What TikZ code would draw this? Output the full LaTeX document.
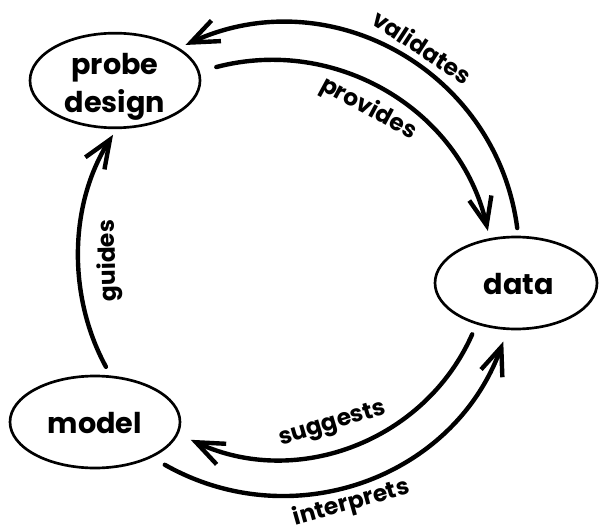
\documentclass[tikz,border=0pt]{standalone}
\usepackage{fontspec}
\setmainfont{Poppins}
\usetikzlibrary{shapes.geometric,arrows.meta}
\begin{document}
\begin{tikzpicture}[x=0.75pt,y=-0.75pt]
\tikzset{
  state/.style={ellipse, draw, line width=2pt, inner sep=0pt, outer sep=0pt},
  nodetext/.style={align=center, inner sep=0pt, font=\bfseries\fontsize{21.5pt}{29pt}\selectfont},
  flow/.style={line width=3.3pt, line cap=round, -{Straight Barb[length=21pt,width=17pt]}},
  lab/.style={font=\bfseries\fontsize{17.5pt}{20pt}\selectfont, sloped, inner sep=1pt}
}
\useasboundingbox (0,0) rectangle (599,527);
\node[state, minimum width=127.5pt, minimum height=71pt] (probe) at (115,80.5) {};
\node[nodetext] (probetext) at (115,87) {probe\\design};
\node[state, minimum width=121.5pt, minimum height=69pt] (data) at (516,283) {};
\node[nodetext] (datatext) at (519,284) {data};
\node[state, minimum width=127.5pt, minimum height=69pt] (model) at (95,422) {};
\node[nodetext] (modeltext) at (95,423) {model};
% validates
\draw[flow, shorten <=6.8pt, shorten >=6.4pt] (data.87) .. controls (496.6,70.5) and (329.5,-21.4) .. node[lab, above=5pt, pos=0.46] (lv) {validates} (probe.27);
% provides
\draw[flow, shorten <=13.8pt, shorten >=6.5pt] (probe.6) .. controls (336.4,35.5) and (460.2,110.2) .. node[lab, below=4pt, pos=0.48] (lp) {provides} (data.121);
% guides
\draw[flow, shorten <=8.6pt, shorten >=6.2pt] (model.70) .. controls (67.6,296.5) and (68.6,204.7) .. node[lab, allow upside down, below=10pt, pos=0.46] (lg) {guides} (probe.273);
% suggests
\draw[flow, shorten <=9pt, shorten >=11.1pt] (data.226) .. controls (424.9,441.2) and (296.8,489.1) .. node[lab, above=7pt, pos=0.54] (ls) {suggests} (model.352);
% interprets
\draw[flow, shorten <=12.2pt, shorten >=10.2pt] (model.328) .. controls (292.1,536.8) and (453.4,478.6) .. node[lab, below=3pt, pos=0.46] (li) {interprets} (data.260);
\end{tikzpicture}
\end{document}
